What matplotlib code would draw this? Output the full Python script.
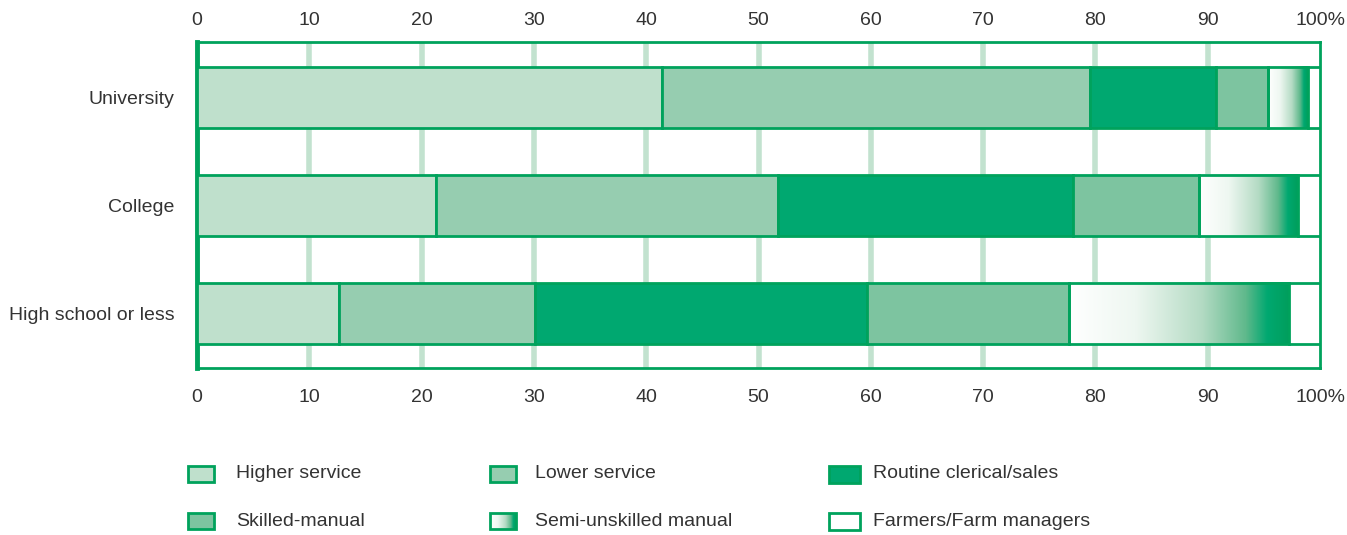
import numpy as np
import matplotlib
matplotlib.use("Agg")
import matplotlib.pyplot as plt
from matplotlib.patches import Rectangle
from matplotlib.colors import LinearSegmentedColormap

plt.rcParams['font.family'] = ['Liberation Sans', 'DejaVu Sans']

# data (% of each education group)
groups = ["University", "College", "High school or less"]
categories = ["Higher service", "Lower service", "Routine clerical/sales",
              "Skilled-manual", "Semi-unskilled manual", "Farmers/Farm managers"]
higher_service = [41.4, 21.3, 12.6]
lower_service = [38.1, 30.4, 17.5]
routine_clerical = [11.2, 26.3, 29.6]
skilled_manual = [4.7, 11.2, 17.9]
semi_unskilled = [3.5, 8.8, 19.6]
farmers = [1.1, 2.0, 2.8]
ticks = [0, 10, 20, 30, 40, 50, 60, 70, 80, 90, 100]
tick_labels = ["0", "10", "20", "30", "40", "50", "60", "70", "80", "90", "100%"]

series = [higher_service, lower_service, routine_clerical, skilled_manual, semi_unskilled, farmers]
colors = ["#bfe0cc", "#96cdb0", "#00a870", "#7dc4a0", None, "white"]
edge = "#00a25c"
grid_col = "#c2e2cf"
text_col = "#333333"
grad = LinearSegmentedColormap.from_list(
    "semi", [(0, "#ffffff"), (0.3, "#eef7f1"), (0.6, "#b4dbc4"),
             (0.8, "#60b98c"), (0.9, "#00a870"), (1, "#009e5c")])

fig = plt.figure(figsize=(13.47, 5.35), dpi=100)
ax = fig.add_axes([0.1463, 0.312, 0.8337, 0.6095])

y = np.arange(len(groups))
bh = 0.565
left = np.zeros(len(groups))
for k, vals in enumerate(series):
    vals = np.array(vals)
    if k == 4:
        # gradient-filled segment
        for i in range(len(groups)):
            ax.imshow(np.linspace(0, 1, 256).reshape(1, -1), cmap=grad, aspect='auto',
                      extent=(left[i], left[i] + vals[i], y[i] + bh / 2, y[i] - bh / 2),
                      zorder=2)
            ax.add_patch(Rectangle((left[i], y[i] - bh / 2), vals[i], bh, fill=False,
                                   edgecolor=edge, linewidth=2, zorder=3))
    else:
        ax.barh(y, vals, left=left, height=bh, color=colors[k], edgecolor=edge,
                linewidth=2, zorder=3)
    left += vals

ax.set_xlim(0, 100)
ax.set_ylim(2.51, -0.51)
ax.set_xticks(ticks)
ax.set_xticklabels(tick_labels)
ax.tick_params(axis='x', length=0, pad=15, labelsize=14, labelcolor=text_col)
top = ax.secondary_xaxis('top')
top.set_xticks(ticks)
top.set_xticklabels(tick_labels)
top.tick_params(length=0, pad=9, labelsize=14, labelcolor=text_col)
top.spines['top'].set_visible(False)
ax.set_yticks(y)
ax.set_yticklabels(groups)
ax.tick_params(axis='y', length=0, pad=16, labelsize=14, labelcolor=text_col)
for t in ticks[1:-1]:
    ax.axvline(t, color=grid_col, linewidth=4, zorder=1)
for s in ax.spines.values():
    s.set_color(edge)
    s.set_linewidth(2)
ax.spines['left'].set_linewidth(3.5)

# legend
lg = fig.add_axes([0, 0, 1, 1], zorder=-1)
lg.axis('off')
cols_x = [188, 490, 829]
text_x = [236, 535, 873]
rows_y = [474, 521]
for k, name in enumerate(categories):
    cx = cols_x[k % 3]
    cy = rows_y[k // 3]
    w, h = (31, 17) if k % 3 == 2 else (26, 16)
    if k == 4:
        lg.imshow(np.linspace(0, 1, 256).reshape(1, -1), cmap=grad, aspect='auto',
                  extent=(cx, cx + w, cy + h / 2, cy - h / 2))
        lg.add_patch(Rectangle((cx, cy - h / 2), w, h, fill=False, edgecolor=edge, linewidth=2))
    else:
        lg.add_patch(Rectangle((cx, cy - h / 2), w, h, facecolor=colors[k], edgecolor=edge,
                               linewidth=2))
    lg.text(text_x[k % 3], cy, name, va='center', ha='left', fontsize=14, color=text_col)
lg.set_xlim(0, 1347)
lg.set_ylim(535, 0)

fig.savefig("out.png", dpi=100)
